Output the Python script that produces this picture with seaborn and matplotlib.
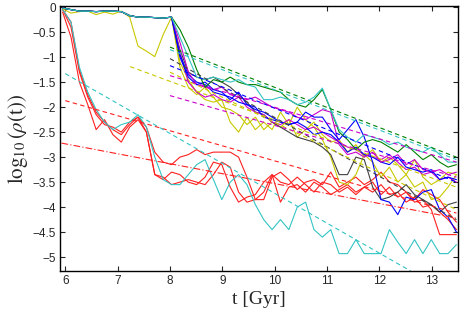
import numpy as np
import pandas as pd
import seaborn as sns
import matplotlib
matplotlib.use("Agg")
import matplotlib.pyplot as plt

# snapshot times [Gyr]
t = [5.95, 6.11, 6.27, 6.43, 6.59, 6.75, 6.91, 7.07, 7.23, 7.39, 7.55, 7.71,
     7.87, 8.03, 8.19, 8.35, 8.51, 8.67, 8.83, 8.99, 9.15, 9.31, 9.47, 9.63,
     9.79, 9.95, 10.11, 10.27, 10.43, 10.59, 10.75, 10.91, 11.07, 11.23, 11.39,
     11.55, 11.71, 11.87, 12.03, 12.19, 12.35, 12.51, 12.67, 12.83, 12.99,
     13.15, 13.31, 13.47]

# early-collapsing runs (full time range)
red1 = [-0.1, -0.6, -1.5, -1.95, -2.45, -2.25, -2.55, -2.7, -2.4, -2.25, -2.5, -3.35,
        -3.4, -3.55, -3.5, -3.45, -3.5, -3.55, -3.35, -3.1, -3.2, -3.7, -3.9, -3.85,
        -3.7, -3.35, -3.9, -3.6, -3.55, -3.7, -3.5, -3.6, -3.75, -3.65, -3.55,
        -3.7, -3.6, -3.5, -3.75, -3.6, -3.8, -3.7, -3.9, -3.85, -4.05,
        -4.55, -4.55, -4.55]
red2 = [-0.05, -0.4, -1.3, -1.8, -2.15, -2.35, -2.4, -2.5, -2.3, -2.2, -2.4, -2.9,
        -3.1, -3.15, -3.0, -2.95, -2.85, -2.95, -2.9, -2.9, -2.9, -3.0, -3.4, -3.85,
        -3.85, -3.4, -3.3, -3.45, -3.65, -3.5, -3.45, -3.55, -3.3, -3.6, -3.5,
        -3.4, -3.55, -3.45, -3.3, -3.5, -3.55, -3.7, -3.85, -3.65, -3.75,
        -3.85, -4.1, -4.3]
red3 = [-0.05, -0.3, -1.25, -1.75, -2.1, -2.3, -2.45, -2.55, -2.35, -2.2, -2.5, -3.35,
        -3.45, -3.3, -3.35, -3.5, -3.55, -3.4, -3.1, -3.15, -3.6, -3.9, -3.8, -3.75,
        -3.5, -3.35, -3.5, -3.55, -3.4, -3.55, -3.7, -3.5, -3.55, -3.7, -3.6,
        -3.75, -3.6, -3.7, -3.55, -3.75, -3.7, -3.9, -3.8, -4.0, -3.95,
        -4.1, -4.25, -4.45]
cyan1 = [-0.05, -0.3, -1.2, -1.7, -2.05, -2.3, -2.45, -2.35, -2.3, -2.15, -2.4, -3.0,
         -3.45, -3.55, -3.55, -3.35, -3.15, -3.05, -3.45, -3.85, -3.5, -3.35, -3.55, -3.95,
         -4.25, -4.45, -4.25, -4.45, -4.0, -3.9, -4.45, -4.6, -4.45, -4.93, -4.93,
         -4.65, -4.93, -4.93, -4.93, -4.45, -4.7, -4.93, -4.65, -4.93, -4.65,
         -4.93, -4.93, -4.75]

# late-collapsing runs: common plateau up to 7.87 Gyr, then individual tails
plateau = [-0.02, -0.05, -0.08, -0.08, -0.09, -0.08, -0.08, -0.09, -0.17, -0.2,
           -0.2, -0.21, -0.22]
plateau_yellow = [-0.03, -0.12, -0.09, -0.08, -0.15, -0.1, -0.14, -0.08, -0.2, -0.78,
                  -0.88, -0.99, -0.55]

green = [-0.2, -0.45, -0.8, -1.25, -1.6, -1.45, -1.5, -1.4, -1.5, -1.55, -1.55, -1.6,
         -1.65, -1.7, -1.85, -1.95, -2.0, -1.85, -1.65, -2.05, -2.5, -2.65, -2.85,
         -2.7, -2.65, -2.7, -2.8, -2.9, -2.75, -2.9, -3.05, -2.95, -3.1, -3.2, -3.15]
cyan2 = [-0.2, -0.6, -1.0, -1.4, -1.45, -1.4, -1.45, -1.5, -1.45, -1.55, -1.6, -1.85,
         -1.85, -1.8, -1.85, -1.95, -1.9, -1.8, -1.62, -2.05, -2.45, -2.6, -2.7,
         -2.55, -2.6, -2.65, -2.75, -2.7, -2.8, -2.85, -2.9, -2.8, -2.95, -3.1, -3.1]
magenta1 = [-0.2, -0.7, -1.3, -1.55, -1.6, -1.65, -1.6, -1.75, -1.8, -1.85, -1.8, -1.9,
            -2.0, -2.05, -2.1, -2.2, -2.25, -2.15, -2.05, -2.1, -2.75, -2.95, -2.9,
            -3.0, -2.9, -3.1, -3.05, -2.95, -3.15, -3.05, -3.25, -3.3, -3.25, -3.35, -3.3]
magenta2 = [-0.2, -0.9, -1.5, -1.7, -1.8, -1.75, -1.85, -1.9, -1.8, -2.0, -2.1, -2.15,
            -2.3, -2.35, -2.25, -2.35, -2.45, -2.4, -2.5, -2.6, -2.7, -2.8, -2.85,
            -2.95, -3.0, -3.05, -2.95, -3.1, -3.25, -3.2, -3.35, -3.3, -3.45, -3.4, -3.5]
blue1 = [-0.2, -1.0, -1.4, -1.55, -1.5, -1.65, -1.7, -1.85, -1.7, -1.95, -2.0, -2.2,
         -2.25, -2.3, -2.35, -2.3, -2.1, -2.2, -2.2, -2.45, -2.65, -2.45, -2.25,
         -2.6, -3.1, -3.85, -3.9, -4.15, -3.8, -3.85, -3.7, -3.65, -4.05, -4.2, -4.5]
blue2 = [-0.2, -0.95, -1.35, -1.5, -1.55, -1.7, -1.75, -1.8, -1.9, -1.95, -2.05, -2.1,
         -2.2, -2.3, -2.35, -2.3, -2.4, -2.55, -2.5, -2.55, -2.7, -2.9, -2.8,
         -2.95, -3.0, -3.1, -3.15, -3.0, -3.2, -3.25, -3.3, -3.25, -3.45, -3.4, -3.45]
gray = [-0.2, -0.85, -1.3, -1.4, -1.45, -1.4, -1.5, -1.6, -1.75, -1.9, -2.1, -2.15,
        -2.3, -2.4, -2.5, -2.6, -2.65, -2.7, -2.8, -2.95, -3.35, -3.35, -3.0,
        -3.05, -3.6, -3.85, -3.8, -3.7, -3.55, -3.75, -3.85, -3.95, -4.1, -3.95, -3.9]
yellow1 = [-0.2, -1.1, -1.45, -1.7, -1.85, -1.9, -1.85, -2.3, -2.5, -2.2, -2.45, -2.3,
           -2.45, -2.1, -2.35, -2.0, -2.25, -2.4, -2.65, -3.0, -3.5, -3.55, -3.35,
           -2.95, -3.1, -3.4, -3.2, -3.5, -3.35, -3.6, -3.5, -3.85, -3.8, -3.6, -3.35]
yellow2 = [-0.2, -1.2, -1.6, -1.75, -1.6, -1.8, -2.0, -2.05, -2.15, -2.35, -2.2, -2.45,
           -2.3, -2.4, -2.25, -2.6, -2.45, -2.3, -2.55, -2.7, -2.65, -2.9, -2.75,
           -3.0, -2.85, -3.1, -3.0, -3.15, -3.35, -3.05, -3.4, -3.55, -3.45, -3.3, -3.35]

# power-law fits (straight lines in log space): endpoints
fit_names = ["red_dd", "red_d", "cyan_d", "yellow_d0", "green_d", "cyan2_d",
             "gray_d", "blue_d", "yellow_d", "magenta_d", "magenta2_d"]
fit_t0 = [5.93, 6.0, 6.0, 7.24, 8.0, 8.0, 8.0, 8.0, 8.0, 8.0, 8.0]
fit_t1 = [13.47, 13.47, 12.6, 13.47, 13.47, 13.47, 13.47, 13.47, 13.47, 13.47, 13.47]
fit_y0 = [-2.72, -1.87, -1.33, -1.19, -0.8, -0.85, -1.03, -1.17, -1.3, -1.37, -1.77]
fit_y1 = [-4.22, -4.12, -5.28, -3.6, -3.0, -3.05, -4.25, -3.5, -4.05, -3.1, -3.4]

y_ticks = [0, -0.5, -1, -1.5, -2, -2.5, -3, -3.5, -4, -4.5, -5]
y_tick_labels = ["0", "\u22120.5", "\u22121", "\u22121.5", "\u22122", "\u22122.5",
                 "\u22123", "\u22123.5", "\u22124", "\u22124.5", "\u22125"]

colors = {
    "red": "#ff2020", "cyan": "#33c4c4", "green": "#008000", "blue": "#0000ff",
    "magenta": "#cc00cc", "gray": "#404040", "yellow": "#c8c800",
}

series = {
    "red1": ("red", red1), "red2": ("red", red2), "red3": ("red", red3),
    "cyan1": ("cyan", cyan1),
    "yellow1": ("yellow", plateau_yellow + yellow1),
    "yellow2": ("yellow", plateau + yellow2),
    "gray": ("gray", plateau + gray),
    "magenta2": ("magenta", plateau + magenta2),
    "blue2": ("blue", plateau + blue2),
    "magenta1": ("magenta", plateau + magenta1),
    "blue1": ("blue", plateau + blue1),
    "green": ("green", plateau + green),
    "cyan2": ("cyan", plateau + cyan2),
}
fit_color = ["red", "red", "cyan", "yellow", "green", "cyan", "gray", "blue",
             "yellow", "magenta", "magenta"]

rows = []
for name, (c, vals) in series.items():
    for ti, v in zip(t, vals):
        rows.append((name, ti, v))
df = pd.DataFrame(rows, columns=["run", "t", "logrho"])
palette = {name: colors[c] for name, (c, _) in series.items()}

sns.set_style("ticks")
plt.rcParams["font.family"] = ["Liberation Sans", "DejaVu Sans"]
plt.rcParams["mathtext.fontset"] = "stix"
plt.rcParams["xtick.direction"] = "in"
plt.rcParams["ytick.direction"] = "in"

fig = plt.figure(figsize=(4.63, 3.22), dpi=100)
ax = fig.add_axes([0.1296, 0.158, 0.8596, 0.823])

sns.lineplot(data=df, x="t", y="logrho", hue="run", palette=palette,
             estimator=None, sort=False, legend=False, lw=0.8, ax=ax)

for i, name in enumerate(fit_names):
    ls = (0, (6, 2, 1, 2)) if name == "red_dd" else (0, (4, 3))
    sns.lineplot(x=[fit_t0[i], fit_t1[i]], y=[fit_y0[i], fit_y1[i]],
                 color=colors[fit_color[i]], lw=0.8, linestyle=ls, ax=ax)

ax.set_xlim(5.9, 13.5)
ax.set_ylim(-5.28, 0.02)
ax.set_xticks([6, 7, 8, 9, 10, 11, 12, 13])
ax.set_yticks(y_ticks)
ax.set_yticklabels(y_tick_labels)
ax.tick_params(top=True, right=True, length=3.5, width=0.8, labelsize=8.5,
               pad=3)
for s in ax.spines.values():
    s.set_linewidth(1.0)
    s.set_color("black")

ax.set_xlabel("t [Gyr]", family="Liberation Serif", fontsize=14, labelpad=3)
ax.set_ylabel(r"$\mathrm{log}_{10}\,(\rho(\mathrm{t}))$", fontsize=15, labelpad=2)

fig.savefig("out.png", dpi=100)
